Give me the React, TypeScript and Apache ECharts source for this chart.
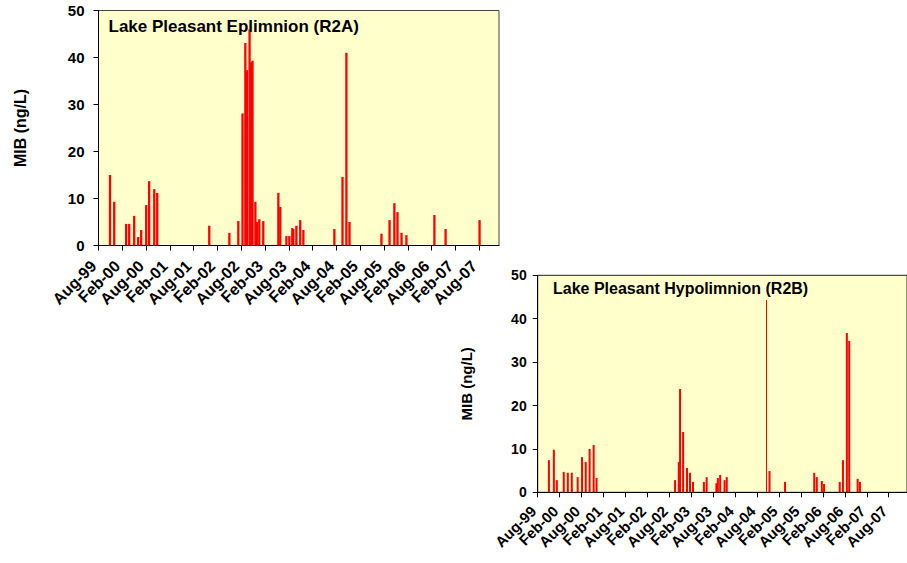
import React, { useEffect, useRef } from "react";
import * as echarts from "echarts";

// Tick labels every 6 months starting Aug-99
const tickLabels = [
  "Aug-99", "Feb-00", "Aug-00", "Feb-01", "Aug-01", "Feb-02", "Aug-02", "Feb-03",
  "Aug-03", "Feb-04", "Aug-04", "Feb-05", "Aug-05", "Feb-06", "Aug-06", "Feb-07", "Aug-07",
];
const axisStart = "1999-08-01";
const axisEnd = "2008-01-01";

// Lake Pleasant Epilimnion (R2A)
const epiDates = [
  "1999-10-29", "1999-11-30", "2000-02-29", "2000-03-24", "2000-05-01", "2000-06-01",
  "2000-06-24", "2000-08-02", "2000-08-25", "2000-10-03", "2000-10-26", "2001-11-29",
  "2002-05-01", "2002-07-09", "2002-08-11", "2002-09-02", "2002-09-14", "2002-10-04",
  "2002-10-17", "2002-10-27", "2002-11-18", "2002-11-30", "2002-12-18", "2003-01-18",
  "2003-05-12", "2003-05-27", "2003-07-13", "2003-08-05", "2003-08-28", "2003-09-05",
  "2003-09-28", "2003-10-28", "2003-11-21", "2004-07-16", "2004-09-17", "2004-10-17",
  "2004-11-10", "2005-07-12", "2005-09-13", "2005-10-20", "2005-11-13", "2005-12-14",
  "2006-01-21", "2006-08-23", "2006-11-17", "2007-08-04",
];
const epiValues = [
  15.0, 9.3, 4.6, 4.6, 6.3, 1.8,
  3.3, 8.6, 13.7, 12.0, 11.2, 4.2,
  2.7, 5.2, 28.1, 43.1, 37.3, 46.0,
  39.0, 39.3, 9.3, 5.0, 5.6, 5.2,
  11.2, 8.2, 2.0, 2.0, 3.7, 3.5,
  4.2, 5.4, 3.3, 3.5, 14.6, 41.0,
  5.0, 2.5, 5.4, 9.0, 7.1, 2.7,
  2.2, 6.5, 3.5, 5.4,
];

// Lake Pleasant Hypolimnion (R2B)
const hypoDates = [
  "1999-11-03", "1999-12-14", "2000-01-08", "2000-03-05", "2000-04-08", "2000-05-11",
  "2000-06-29", "2000-08-05", "2000-09-05", "2000-10-07", "2000-11-10", "2000-12-04",
  "2002-09-18", "2002-10-19", "2002-10-30", "2002-11-24", "2002-12-27", "2003-01-21",
  "2003-02-14", "2003-05-15", "2003-06-07", "2003-08-28", "2003-09-09", "2003-09-28",
  "2003-11-04", "2003-11-22", "2004-11-13", "2005-03-21", "2005-11-20", "2005-12-11",
  "2006-01-23", "2006-02-10", "2006-06-19", "2006-07-16", "2006-08-18", "2006-09-07",
  "2006-11-16", "2006-12-05",
];
const hypoValues = [
  7.4, 9.8, 2.8, 4.7, 4.5, 4.5,
  3.5, 8.1, 7.0, 10.0, 10.9, 3.3,
  2.8, 7.0, 23.8, 13.9, 5.6, 4.5,
  2.4, 2.4, 3.5, 2.1, 3.3, 4.0,
  2.8, 3.5, 4.9, 2.4, 4.5, 3.5,
  2.6, 1.9, 2.4, 7.4, 36.7, 34.9,
  3.1, 2.4,
];
// single narrow spike
const hypoSpikeDate = "2004-10-13";
const hypoSpikeValue = 44.3;

const yTicks = [0, 10, 20, 30, 40, 50];

const FONT = "'Liberation Sans', Arial, sans-serif";

function monthsSince(d: string): number {
  const [y, m, day] = d.split("-").map(Number);
  const dim = new Date(y, m, 0).getDate();
  return (y - 1999) * 12 + (m - 8) + (day - 1) / dim;
}

export default function App() {
  const ref = useRef<HTMLDivElement>(null);
  useEffect(() => {
    if (!ref.current) return;
    const chart = echarts.init(ref.current, undefined, { renderer: "svg" });
    const xMin = monthsSince(axisStart);
    const xMax = monthsSince(axisEnd);
    const tickVals = tickLabels.map((_, i) => i * 6);
    const fmt = (v: number) => {
      const i = Math.round(v / 6);
      return Math.abs(v - i * 6) < 1e-6 && tickLabels[i] ? tickLabels[i] : "";
    };
    const mkX = (gi: number, fs: number, margin: number, padR: number) => ({
      type: "value" as const,
      gridIndex: gi,
      min: xMin,
      max: xMax,
      interval: 6,
      splitLine: { show: false },
      axisLine: { show: true, onZero: false, lineStyle: { color: "#000", width: 1 } },
      axisTick: { show: true, length: 5, lineStyle: { color: "#000" }, customValues: tickVals },
      axisLabel: {
        customValues: tickVals,
        formatter: fmt,
        rotate: 45,
        margin,
        padding: [0, padR, 0, 0],
        color: "#000",
        fontFamily: FONT,
        fontWeight: "bold" as const,
        fontSize: fs,
      },
    });
    const mkY = (gi: number, fs: number, margin: number, nameGap: number, nameSize: number) => ({
      type: "value" as const,
      gridIndex: gi,
      min: 0,
      max: 50,
      interval: 10,
      name: "MIB (ng/L)",
      nameLocation: "middle" as const,
      nameGap,
      nameRotate: 90,
      nameTextStyle: { fontFamily: FONT, fontWeight: "bold" as const, fontSize: nameSize, color: "#000" },
      splitLine: { show: false },
      axisLine: { show: true, lineStyle: { color: "#000", width: 1 } },
      axisTick: { show: true, length: 5, lineStyle: { color: "#000" } },
      axisLabel: {
        margin,
        color: "#000",
        fontFamily: FONT,
        fontWeight: "bold" as const,
        fontSize: fs,
        customValues: yTicks,
      },
    });
    chart.setOption({
      animation: false,
      backgroundColor: "#fff",
      grid: [
        {
          left: 98.5, top: 10.5, width: 400.5, height: 235,
          show: true, backgroundColor: "#FFFFCC", borderColor: "#444", borderWidth: 1,
        },
        {
          left: 537.7, top: 275.3, width: 371.7, height: 217,
          show: true, backgroundColor: "#FFFFCC", borderColor: "#222", borderWidth: 1,
        },
      ],
      xAxis: [mkX(0, 16, 13, 7), mkX(1, 15, 12, 6)],
      yAxis: [mkY(0, 15, 14, 70, 16), mkY(1, 14, 11, 64, 15)],
      graphic: [
        {
          type: "text", x: 108.5, y: 26, z: 10,
          style: { text: "Lake Pleasant Eplimnion (R2A)", font: `bold 17px ${FONT}`, fill: "#000", verticalAlign: "middle" },
        },
        {
          type: "text", x: 553, y: 288.5, z: 10,
          style: { text: "Lake Pleasant Hypolimnion (R2B)", font: `bold 16px ${FONT}`, fill: "#000", verticalAlign: "middle" },
        },
      ],
      series: [
        {
          type: "bar",
          xAxisIndex: 0,
          yAxisIndex: 0,
          barWidth: 2.3,
          itemStyle: { color: "#FF0000" },
          data: epiDates.map((d, i) => [monthsSince(d), epiValues[i]]),
        },
        {
          type: "bar",
          xAxisIndex: 1,
          yAxisIndex: 1,
          barWidth: 2,
          itemStyle: { color: "#FF0000" },
          data: hypoDates.map((d, i) => [monthsSince(d), hypoValues[i]]),
          markLine: {
            silent: true,
            symbol: "none",
            label: { show: false },
            lineStyle: { color: "#FF0000", width: 1, type: "solid" },
            data: [[
              { coord: [monthsSince(hypoSpikeDate), 0] },
              { coord: [monthsSince(hypoSpikeDate), hypoSpikeValue] },
            ]],
          },
        },
      ],
    });
    return () => chart.dispose();
  }, []);
  return (
    <div
      ref={ref}
      style={{ position: "absolute", left: 0, top: 0, width: 907, height: 563 }}
    />
  );
}
